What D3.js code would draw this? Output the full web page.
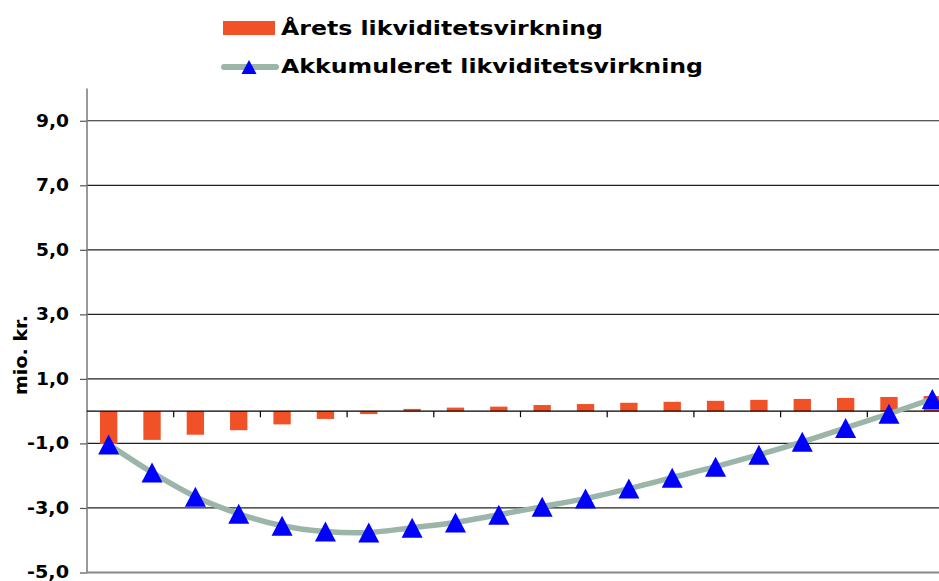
<!DOCTYPE html>
<html>
<head>
<meta charset="utf-8">
<script src="https://cdn.jsdelivr.net/npm/d3@7"></script>
<style>
  html, body { margin: 0; padding: 0; background: #fff; overflow: hidden; }
  svg { display: block; font-family: "DejaVu Sans", Verdana, sans-serif; font-weight: bold; }
</style>
</head>
<body>
<div id="chart"></div>
<script>
'use strict';

// one bar + one point per year, 20 years, no x labels
const years = ['1', '2', '3', '4', '5', '6', '7', '8', '9', '10',
               '11', '12', '13', '14', '15', '16', '17', '18', '19', '20'];
const aarets = [-1.02, -0.89, -0.73, -0.59, -0.41, -0.24, -0.09, 0.07, 0.11, 0.14,
                0.19, 0.22, 0.26, 0.29, 0.32, 0.35, 0.38, 0.41, 0.44, 0.47];
const akkumuleret = [-1.03, -1.90, -2.65, -3.18, -3.55, -3.73, -3.76, -3.61, -3.45, -3.21,
                     -2.96, -2.71, -2.40, -2.06, -1.72, -1.35, -0.95, -0.52, -0.08, 0.38];
const yTicks = [-5, -3, -1, 1, 3, 5, 7, 9];
const yDomain = [-5, 10];
const seriesNames = ['Årets likviditetsvirkning', 'Akkumuleret likviditetsvirkning'];
const yLabel = 'mio. kr.';

const width = 939, height = 581;
const margins = { top: 88.5, left: 87, bottom: 8.5, plotWidth: 867 };
// Danish decimal comma, plain hyphen for minus
const fmt = v => d3.format('.1f')(v).replace('.', ',').replace('\u2212', '-');

const svg = d3.select('#chart').append('svg')
              .attr('width', width)
              .attr('height', height);

const x = d3.scaleBand()
            .domain(years)
            .range([margins.left, margins.left + margins.plotWidth])
            .paddingInner(0.6)
            .paddingOuter(0.3);
const y = d3.scaleLinear()
            .domain(yDomain)
            .range([height - margins.bottom, margins.top]);

// gridlines + y ticks
const yAxis = d3.axisLeft(y).tickValues(yTicks).tickSize(7).tickFormat(fmt).tickPadding(11);
const gy = svg.append('g').attr('transform', `translate(${margins.left},0)`).call(yAxis);
gy.select('.domain').remove();
gy.selectAll('line').attr('stroke', '#555').attr('stroke-width', 1.2);
gy.selectAll('text').attr('fill', '#000').attr('font-size', 17)
  .attr('font-weight', 'bold').attr('font-family', '"DejaVu Sans", sans-serif')
  .attr('textLength', d => d < 0 ? 42 : 33).attr('lengthAdjust', 'spacingAndGlyphs');

svg.append('g').selectAll('line').data(yTicks.filter(d => d !== yDomain[0]))
   .enter().append('line')
           .attr('x1', margins.left).attr('x2', width)
           .attr('y1', d => y(d)).attr('y2', d => y(d))
           .attr('stroke', '#222').attr('stroke-width', 1.2);

// bottom + left axis lines
svg.append('line').attr('x1', margins.left).attr('x2', width)
   .attr('y1', y(yDomain[0])).attr('y2', y(yDomain[0]))
   .attr('stroke', '#888').attr('stroke-width', 2);
svg.append('line').attr('x1', margins.left).attr('x2', margins.left)
   .attr('y1', y(yDomain[1])).attr('y2', y(yDomain[0]))
   .attr('stroke', '#777').attr('stroke-width', 1.5);

// bars
svg.append('g').selectAll('rect').data(aarets)
   .enter().append('rect')
           .attr('x', (d, i) => x(years[i]))
           .attr('width', x.bandwidth())
           .attr('y', d => y(Math.max(0, d)))
           .attr('height', d => Math.abs(y(d) - y(0)))
           .attr('fill', '#f05127');

// zero line with a tick every second year
svg.append('line').attr('x1', margins.left).attr('x2', width)
   .attr('y1', y(0)).attr('y2', y(0))
   .attr('stroke', '#000').attr('stroke-width', 1.2);
svg.append('g').selectAll('line').data(years.filter((d, i) => i % 2 === 1 && i < years.length - 1))
   .enter().append('line')
           .attr('x1', d => x(d) + x.bandwidth() + x.step() * 0.3)
           .attr('x2', d => x(d) + x.bandwidth() + x.step() * 0.3)
           .attr('y1', y(0)).attr('y2', y(0) + 6)
           .attr('stroke', '#000').attr('stroke-width', 1.2);

// accumulated line
const cx = i => x(years[i]) + x.bandwidth() / 2;
const line = d3.line()
               .x((d, i) => cx(i))
               .y(d => y(d))
               .curve(d3.curveCatmullRom.alpha(0.5));
svg.append('path').attr('d', line(akkumuleret))
   .attr('fill', 'none').attr('stroke', '#9bb5a9').attr('stroke-width', 5.5);

const tri = (w, h) => `M0,${-h / 2}L${w / 2},${h / 2}L${-w / 2},${h / 2}Z`;
svg.append('g').selectAll('path').data(akkumuleret)
   .enter().append('path')
           .attr('d', tri(21, 20))
           .attr('transform', (d, i) => `translate(${cx(i)},${y(d)})`)
           .attr('fill', '#0000ff');

// y label
svg.append('text')
   .attr('transform', 'translate(27,355) rotate(-90)')
   .attr('text-anchor', 'middle')
   .attr('font-size', 17)
   .attr('textLength', 80).attr('lengthAdjust', 'spacingAndGlyphs')
   .text(yLabel);

// legend
const legend = svg.append('g');
legend.append('rect').attr('x', 223).attr('y', 21).attr('width', 52).attr('height', 14).attr('fill', '#f05127');
legend.append('text').attr('x', 281).attr('y', 35).attr('font-size', 20)
      .attr('textLength', 322).attr('lengthAdjust', 'spacingAndGlyphs')
      .text(seriesNames[0]);
legend.append('line').attr('x1', 224).attr('x2', 276).attr('y1', 67).attr('y2', 67)
      .attr('stroke', '#9bb5a9').attr('stroke-width', 6).attr('stroke-linecap', 'round');
legend.append('path').attr('d', tri(15, 14)).attr('transform', 'translate(249,67)').attr('fill', '#0000ff');
legend.append('text').attr('x', 281).attr('y', 73).attr('font-size', 20)
      .attr('textLength', 422).attr('lengthAdjust', 'spacingAndGlyphs')
      .text(seriesNames[1]);
</script>
</body>
</html>
